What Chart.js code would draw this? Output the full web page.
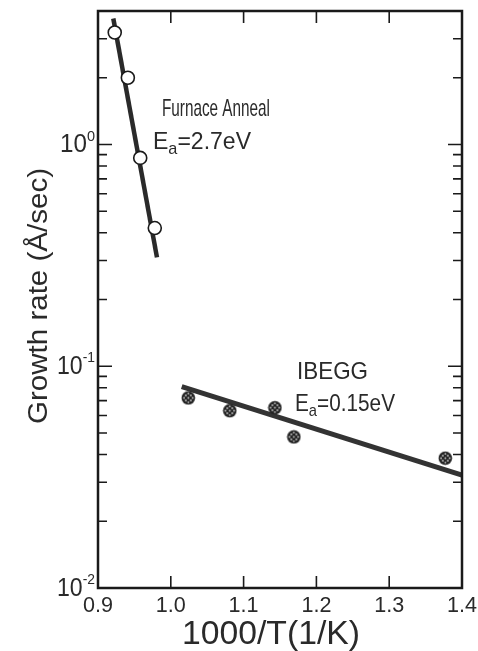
<!DOCTYPE html>
<html>
<head>
<meta charset="utf-8">
<script src="https://cdn.jsdelivr.net/npm/chart.js@4.4.0/dist/chart.umd.min.js"></script>
<style>
  html,body{margin:0;padding:0;background:#fff;}
  canvas{display:block;}
</style>
</head>
<body>
<canvas id="growthChart" width="478" height="651"></canvas>
<script>
/* ---------------- data ---------------- */
const furnaceX = [0.923, 0.941, 0.958, 0.978];
const furnaceY = [3.2, 2.0, 0.87, 0.42];
const furnaceFitX = [0.921, 0.981];
const furnaceFitY = [3.7, 0.31];

const ibeggX = [1.024, 1.081, 1.143, 1.169, 1.377];
const ibeggY = [0.072, 0.063, 0.065, 0.048, 0.0385];
const ibeggFitX = [1.015, 1.4];
const ibeggFitY = [0.081, 0.0323];

const xLabelVals = [0.9, 1.0, 1.1, 1.2, 1.3, 1.4];
const xLabels = ["0.9", "1.0", "1.1", "1.2", "1.3", "1.4"];
const xInnerTicks = [1.0, 1.1, 1.2, 1.3];
const yDecades = [0.01, 0.1, 1];
const yExps = ["-2", "-1", "0"];

const FONT = '"Liberation Sans", Arial, sans-serif';
const INK = "#1a1a1a";
const TEXT_INK = "#2a2a2a";

const pts = (xs, ys) => xs.map((x, i) => ({x, y: ys[i]}));

// dotted filled marker for the IBEGG points
function dottedMarker(){
  const c = document.createElement("canvas");
  c.width = 15; c.height = 15;
  const g = c.getContext("2d");
  g.fillStyle = "#222";
  g.beginPath(); g.arc(7.5, 7.5, 6.8, 0, Math.PI*2); g.fill();
  g.fillStyle = "#d0d0d0";
  [[5,5],[10,5],[7.5,7.5],[5,10],[10,10],[7.5,3.2],[7.5,11.8],[3.2,7.5],[11.8,7.5]].forEach(([x,y])=>{
    g.beginPath(); g.arc(x, y, 0.9, 0, Math.PI*2); g.fill();
  });
  return c;
}

// text squeezed horizontally to a given width (the lettering is tall and narrow)
function fitText(ctx, parts, cx, cy, width, align){
  ctx.save();
  let total = 0;
  parts.forEach(p => { ctx.font = `${p.size}px ${FONT}`; p.w = ctx.measureText(p.t).width; total += p.w; });
  const sx = width / total;
  const x0 = align === "left" ? cx : align === "right" ? cx - width : cx - width/2;
  ctx.translate(x0, cy);
  ctx.scale(sx, 1);
  ctx.textBaseline = "middle";
  ctx.textAlign = "left";
  ctx.fillStyle = TEXT_INK;
  let x = 0;
  parts.forEach(p => {
    ctx.font = `${p.size}px ${FONT}`;
    ctx.fillText(p.t, x, p.dy || 0);
    x += p.w;
  });
  ctx.restore();
}

const framePlugin = {
  id: "frame",
  afterDraw(chart){
    const {ctx, chartArea: a, scales: {x, y}} = chart;
    ctx.save();
    ctx.strokeStyle = INK;
    // frame
    ctx.lineWidth = 2.5;
    ctx.strokeRect(a.left, a.top, a.right - a.left, a.bottom - a.top);
    // x ticks inward, bottom and top
    ctx.lineWidth = 1.6;
    xInnerTicks.forEach(v => {
      const px = x.getPixelForValue(v);
      ctx.beginPath();
      ctx.moveTo(px, a.bottom); ctx.lineTo(px, a.bottom - 12);
      ctx.moveTo(px, a.top); ctx.lineTo(px, a.top + 12);
      ctx.stroke();
    });
    // y ticks inward, left and right
    yDecades.forEach(d => {
      for (let m = 1; m <= 9; m++){
        const v = d * m;
        if (v < y.min || v > y.max) continue;
        const py = y.getPixelForValue(v);
        const len = m === 1 ? 14 : 9;
        ctx.beginPath();
        ctx.moveTo(a.left, py); ctx.lineTo(a.left + len, py);
        ctx.moveTo(a.right, py); ctx.lineTo(a.right - len, py);
        ctx.stroke();
      }
    });
    // x tick labels
    xLabelVals.forEach((v, i) => {
      fitText(ctx, [{t: xLabels[i], size: 22}], x.getPixelForValue(v), 606, 30, "center");
    });
    // y tick labels
    yDecades.forEach((d, i) => {
      const py = y.getPixelForValue(d);
      const parts = [{t: "10", size: 25, dy: 1}, {t: yExps[i], size: 15, dy: -8}];
      const w = yExps[i].length > 1 ? 38 : 35;
      fitText(ctx, parts, 95, py, w, "right");
    });
    // axis titles
    fitText(ctx, [{t: "1000/T(1/K)", size: 33}], 271, 635, 178, "center");
    ctx.save();
    ctx.translate(40, 296);
    ctx.rotate(-Math.PI/2);
    fitText(ctx, [{t: "Growth rate (\u00C5/sec)", size: 27}], 0, 0, 256, "center");
    ctx.restore();
    // annotations
    fitText(ctx, [{t: "Furnace Anneal", size: 24}], 162, 109, 108, "left");
    fitText(ctx, [{t: "E", size: 24}, {t: "a", size: 17, dy: 7}, {t: "=2.7eV", size: 24}], 153, 142, 98, "left");
    fitText(ctx, [{t: "IBEGG", size: 24}], 297, 372, 71, "left");
    fitText(ctx, [{t: "E", size: 24}, {t: "a", size: 17, dy: 7}, {t: "=0.15eV", size: 24}], 295, 404, 100, "left");
    ctx.restore();
  }
};

new Chart(document.getElementById("growthChart"), {
  type: "scatter",
  data: {
    datasets: [
      {label: "Furnace fit", data: pts(furnaceFitX, furnaceFitY), showLine: true, pointRadius: 0,
       borderColor: "#2a2a2a", borderWidth: 4.5, order: 2},
      {label: "IBEGG fit", data: pts(ibeggFitX, ibeggFitY), showLine: true, pointRadius: 0,
       borderColor: "#333", borderWidth: 5, order: 2},
      {label: "Furnace Anneal", data: pts(furnaceX, furnaceY), pointStyle: "circle", pointRadius: 6.5,
       backgroundColor: "#fff", borderColor: INK, borderWidth: 1.6, order: 1},
      {label: "IBEGG", data: pts(ibeggX, ibeggY), pointStyle: dottedMarker(), pointRadius: 7, order: 1}
    ]
  },
  options: {
    responsive: false,
    animation: false,
    devicePixelRatio: 1,
    layout: {padding: {left: 98, right: 16, top: 11, bottom: 63}},
    plugins: {legend: {display: false}, tooltip: {enabled: false}},
    scales: {
      x: {type: "linear", min: 0.9, max: 1.4, display: false},
      y: {type: "logarithmic", min: 0.01, max: 4, display: false}
    }
  },
  plugins: [framePlugin]
});
</script>
</body>
</html>
